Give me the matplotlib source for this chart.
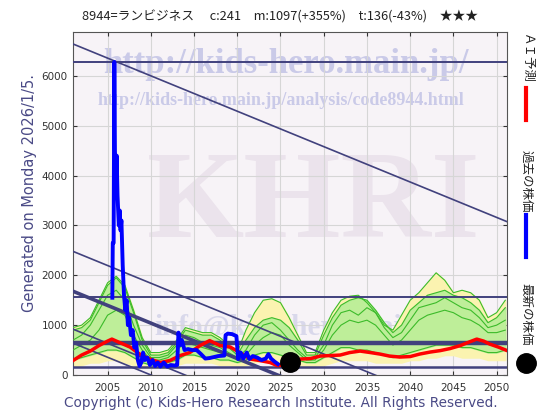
# ==============================
# KHRI STOCK CHART 8944
# ==============================

import numpy as np
import matplotlib
matplotlib.use("Agg")
import matplotlib.pyplot as plt
from matplotlib.lines import Line2D

# ==============================
# DATA
# ==============================

title_text = "8944=ランビジネス　 c:241　m:1097(+355%)　t:136(-43%)　★★★"
generated_text = "Generated on Monday 2026/1/5."
copyright_text = "Copyright (c) Kids-Hero Research Institute. All Rights Reserved."

# past prices (blue)
past_years = [2005.55, 2005.6, 2005.7, 2005.78, 2005.85, 2005.95, 2006.05, 2006.15, 2006.3, 2006.4,
              2006.5, 2006.6, 2006.75, 2006.9, 2007.05, 2007.2, 2007.35, 2007.5, 2007.7, 2007.9,
              2008.1, 2008.3, 2008.5, 2008.7, 2008.9, 2009.1, 2009.3, 2009.6, 2009.9, 2010.2,
              2010.5, 2010.8, 2011.1, 2011.5, 2011.9, 2012.3, 2012.8, 2013.05, 2013.2, 2013.4,
              2013.6, 2013.9, 2014.3, 2014.8, 2015.3, 2015.8, 2016.3, 2016.8, 2017.3, 2017.8,
              2018.5, 2018.65, 2018.9, 2019.4, 2019.9, 2020.1, 2020.4, 2020.7, 2021.1, 2021.4,
              2021.8, 2022.3, 2022.8, 2023.3, 2023.6, 2023.9, 2024.3, 2024.7]
past_price = [1550, 2650, 2650, 6280, 4500, 3800, 4400, 3600, 3000, 3300,
              2900, 3100, 2200, 1600, 1300, 1500, 1000, 1150, 800, 900,
              550, 650, 300, 180, 250, 450, 300, 350, 200, 300,
              180, 250, 170, 250, 170, 200, 190, 200, 850, 600,
              700, 500, 520, 500, 500, 420, 330, 340, 360, 380,
              390, 800, 830, 820, 780, 320, 450, 330, 450, 320,
              380, 350, 300, 330, 420, 330, 270, 220]

# latest price (black dot)
latest_year = 2026.1
latest_price = 260

# AI forecast (red)
ai_years = [2001.0, 2002.0, 2003.0, 2004.0, 2005.0, 2005.5, 2006.4, 2007.6, 2008.7, 2009.9,
            2011.1, 2012.2, 2013.4, 2014.5, 2015.7, 2016.8, 2018.0, 2019.2, 2020.3, 2021.5,
            2022.6, 2023.8, 2024.6, 2025.5, 2026.5, 2027.3, 2028.5, 2029.6, 2030.8, 2031.9,
            2033.0, 2034.2, 2035.4, 2036.5, 2037.6, 2038.8, 2040.0, 2041.1, 2042.3, 2043.5,
            2044.6, 2045.8, 2046.8, 2047.7, 2048.5, 2049.2, 2050.2, 2051.2]
ai_price = [290, 400, 480, 590, 680, 720, 650, 560, 420, 320,
            250, 290, 390, 450, 590, 690, 590, 560, 450, 320,
            290, 250, 190, 200, 260, 320, 330, 380, 390, 400,
            450, 480, 450, 420, 380, 360, 370, 420, 460, 490,
            530, 590, 660, 720, 680, 620, 560, 490]

# simulation bands (green / yellow), one value per year
band_years = list(range(2001, 2052))
yel_hi = [950, 1000, 1150, 1500, 1850, 1980, 1800, 1300, 750, 450,
          450, 500, 700, 950, 900, 850, 850, 750, 600, 450,
          900, 1250, 1500, 1530, 1450, 1150, 800, 450, 450, 900,
          1250, 1500, 1580, 1600, 1450, 1250, 1000, 900, 1200, 1500,
          1650, 1850, 2050, 1900, 1650, 1700, 1650, 1500, 1150, 1250,
          1500]
yel_lo = [150, 200, 250, 250, 300, 300, 250, 200, 150, 150,
          150, 150, 200, 250, 250, 250, 250, 200, 200, 150,
          200, 250, 300, 300, 250, 250, 200, 150, 150, 200,
          250, 300, 300, 300, 300, 250, 250, 250, 250, 300,
          300, 350, 350, 400, 400, 350, 350, 350, 300, 300,
          300]
grn_hi = [900, 950, 1100, 1450, 1800, 1950, 1750, 1250, 700, 400,
          400, 450, 650, 900, 850, 800, 800, 700, 550, 400,
          700, 950, 1100, 1150, 1100, 950, 700, 400, 400, 800,
          1150, 1400, 1500, 1550, 1500, 1300, 1050, 850, 1000, 1300,
          1450, 1600, 1650, 1700, 1600, 1550, 1450, 1300, 1050, 1150,
          1350]
grn_mid1 = [700, 800, 1000, 1300, 1600, 1700, 1500, 1000, 600, 350,
            350, 400, 600, 800, 750, 650, 600, 550, 450, 350,
            500, 800, 1000, 1050, 900, 700, 500, 350, 350, 600,
            1000, 1250, 1300, 1200, 1350, 1250, 950, 750, 850, 1100,
            1350, 1400, 1450, 1550, 1450, 1350, 1300, 1150, 950, 1000,
            1100]
grn_mid2 = [500, 600, 700, 900, 1200, 1300, 1200, 800, 500, 300,
            300, 350, 500, 650, 600, 550, 500, 450, 400, 300,
            400, 600, 750, 850, 800, 600, 450, 300, 300, 500,
            800, 1000, 1100, 1050, 1100, 1000, 800, 600, 700, 900,
            1100, 1200, 1250, 1300, 1250, 1150, 1100, 1000, 850, 850,
            900]
grn_lo = [300, 350, 400, 450, 500, 500, 450, 350, 250, 200,
          200, 250, 300, 400, 400, 350, 350, 300, 300, 250,
          300, 400, 450, 450, 400, 350, 300, 250, 250, 350,
          450, 550, 550, 500, 500, 450, 400, 350, 400, 450,
          500, 550, 600, 600, 600, 550, 550, 500, 450, 450,
          500]

# support / resistance lines
h_levels = [6280, 1560, 640, 160]
h_widths = [1.4, 1.4, 3.2, 1.8]
trend_start = [6640, 2480, 1680, 920, 640]   # value at 2001
trend_widths = [1.2, 1.2, 2.6, 1.2, 1.2]
trend_slope = -71                              # per year

x_ticks = [2005, 2010, 2015, 2020, 2025, 2030, 2035, 2040, 2045, 2050]
y_ticks = [0, 1000, 2000, 3000, 4000, 5000, 6000]

# ==============================
# PLOT
# ==============================

line_col = "#41417d"
jp_font = ["Noto Sans CJK JP", "DejaVu Sans"]

fig = plt.figure(figsize=(5.6, 4.2), dpi=100)
fig.patch.set_facecolor("white")
ax = fig.add_axes([73 / 560, 1 - 375 / 420, 434 / 560, 343 / 420])
ax.set_facecolor("#f7f3f7")
ax.set_xlim(2001, 2051.2)
ax.set_ylim(0, 6880)

ax.set_xticks(x_ticks)
ax.set_yticks(y_ticks)
ax.grid(True, color="#d6d6d6", linewidth=0.8, zorder=0)
ax.tick_params(direction="in", top=True, right=True, length=3, labelsize=7.5,
               colors="#333333", pad=4)
ax.tick_params(axis="x", pad=6)
for s in ax.spines.values():
    s.set_color("#555555")
    s.set_linewidth(0.8)

# watermarks
ax.text(0.49, 0.905, "http://kids-hero.main.jp/", transform=ax.transAxes,
        ha="center", va="center", fontsize=25, fontweight="bold",
        family="Liberation Serif", color="#cacae8", zorder=1)
ax.text(0.48, 0.8, "http://kids-hero.main.jp/analysis/code8944.html",
        transform=ax.transAxes, ha="center", va="center", fontsize=13,
        fontweight="bold", family="Liberation Serif", color="#cacae8", zorder=1)
ax.text(0.555, 0.49, "KHRI", transform=ax.transAxes, ha="center", va="center",
        fontsize=90, fontweight="bold", family="Liberation Serif",
        color="#ebe3ec", zorder=1)
ax.text(0.53, 0.14, "info@kids-hero.main.jp", transform=ax.transAxes,
        ha="center", va="center", fontsize=21, fontweight="bold",
        family="Liberation Serif", color="#d2d2e8", alpha=0.8, zorder=1)

# bands
ax.fill_between(band_years, yel_lo, yel_hi, color="#fbf3b0", zorder=2)
ax.fill_between(band_years, grn_lo, grn_hi, color="#b4ee96", alpha=0.85, zorder=2)
for band in [yel_hi, grn_hi, grn_mid1, grn_mid2, grn_lo]:
    ax.plot(band_years, band, color="#3cbb2a", linewidth=0.8, zorder=3)

# horizontal levels
for lvl, lw in zip(h_levels, h_widths):
    ax.axhline(lvl, color=line_col, linewidth=lw, zorder=4)

# trend lines
xs = np.array([2001, 2051.2])
for start, lw in zip(trend_start, trend_widths):
    ax.plot(xs, start + trend_slope * (xs - 2001), color=line_col,
            linewidth=lw, zorder=4)

# forecast, past, latest
ax.plot(ai_years, ai_price, color="#ff0000", linewidth=2.5, zorder=5)
ax.plot(past_years, past_price, color="#0000ff", linewidth=2.8, zorder=6)
ax.plot([latest_year], [latest_price], "o", color="black", markersize=14, zorder=7)

# texts around the plot
fig.text(0.5, 0.96, title_text, ha="center", va="center", fontsize=9.2,
         family=jp_font, color="#222222")
fig.text(0.052, 1 - 193 / 420, generated_text, rotation=90, ha="center",
         va="center", fontsize=10.5, color="#4a4a86")
fig.text(0.502, 0.04, copyright_text, ha="center", va="center", fontsize=9.8,
         color="#4a4a86")

# right-hand legend
fig.text(0.94, 1 - 58 / 420, "ＡＩ予測", rotation=-90, ha="center", va="center",
         fontsize=9, family=jp_font, color="#222222")
fig.add_artist(Line2D([0.94, 0.94], [1 - 88 / 420, 1 - 120 / 420],
                      color="#ff0000", linewidth=3, transform=fig.transFigure))
fig.text(0.94, 1 - 181 / 420, "過去の株価", rotation=-90, ha="center", va="center",
         fontsize=9, family=jp_font, color="#222222")
fig.add_artist(Line2D([0.94, 0.94], [1 - 215 / 420, 1 - 257 / 420],
                      color="#0000ff", linewidth=3, transform=fig.transFigure))
fig.text(0.94, 1 - 314 / 420, "最新の株価", rotation=-90, ha="center", va="center",
         fontsize=9, family=jp_font, color="#222222")
fig.add_artist(Line2D([0.94], [1 - 363 / 420], marker="o", markersize=14,
                      color="black", transform=fig.transFigure))

plt.savefig("out.png", dpi=100)
